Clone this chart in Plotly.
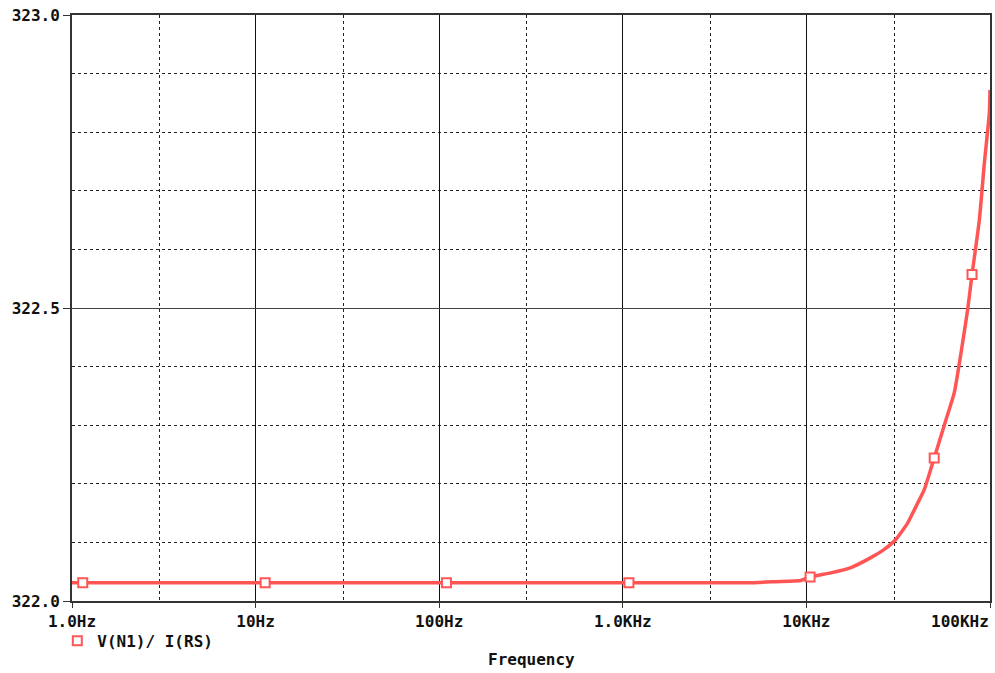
import plotly.graph_objects as go

# Curve (Hz, ohms)
freq = [1, 4775, 6810, 9330, 10470, 13590, 17460, 22440, 26540, 30690, 35570,
        40360, 43850, 49670, 57540, 63830, 75530, 79800, 87480, 93150, 99140, 100000]
zval = [322.031, 322.031, 322.033, 322.035, 322.041, 322.048, 322.057, 322.074,
        322.088, 322.105, 322.133, 322.167, 322.190, 322.244, 322.309, 322.355,
        322.497, 322.557, 322.650, 322.747, 322.832, 322.872]

# Marker positions
mk_freq = [1.144, 11.27, 109.5, 1080, 10470, 49670, 79800]
mk_val = [322.031, 322.031, 322.031, 322.031, 322.041, 322.244, 322.557]

x_ticks = [1, 10, 100, 1000, 10000, 100000]
x_labels = ["1.0Hz", "10Hz", "100Hz", "1.0KHz", "10KHz", "100KHz"]
x_minor = [3, 30, 300, 3000, 30000]
y_ticks = [322.0, 322.5, 323.0]
y_labels = ["322.0", "322.5", "323.0"]
series_name = "V(N1)/ I(RS)"
x_title = "Frequency"

RED = "#ff5555"
FONT = dict(family="DejaVu Sans Mono", size=16, color="#111111", weight="bold")

# the last label sits inside the frame's right edge in the original,
# so it is drawn as a right-aligned annotation
tick_text = x_labels[:-1] + [""]

fig = go.Figure()
fig.add_trace(go.Scatter(x=freq, y=zval, mode="lines",
                         line=dict(color=RED, width=3.5, shape="spline", smoothing=0.5),
                         showlegend=False, hoverinfo="skip"))
fig.add_trace(go.Scatter(x=mk_freq, y=mk_val, mode="markers", name=series_name,
                         marker=dict(symbol="square", size=9, color="white",
                                     line=dict(color=RED, width=2))))

fig.update_layout(
    width=995, height=673,
    margin=dict(l=72, r=5, t=15, b=72, autoexpand=False),
    paper_bgcolor="white", plot_bgcolor="white",
    font=FONT,
    legend=dict(x=-0.016, y=-0.068, xanchor="left", yanchor="middle",
                bgcolor="rgba(0,0,0,0)", font=FONT),
    showlegend=True,
    annotations=[
        dict(text=x_title, x=0.5, y=-0.1, xref="paper", yref="paper",
             xanchor="center", yanchor="middle", showarrow=False, font=FONT),
        dict(text=x_labels[-1], x=1.001, y=-0.035, xref="paper", yref="paper",
             xanchor="right", yanchor="middle", showarrow=False, font=FONT),
    ],
)
fig.update_xaxes(
    type="log", range=[0, 5], automargin=False,
    tickmode="array", tickvals=x_ticks, ticktext=tick_text,
    showgrid=True, gridcolor="#111111", gridwidth=1,
    ticks="outside", ticklen=5, tickcolor="#333333", tickwidth=1,
    showline=True, linecolor="#333333", linewidth=2, mirror=True,
    zeroline=False,
    minor=dict(tickmode="array", tickvals=x_minor, showgrid=True,
               gridcolor="#222222", griddash="3px,3px", gridwidth=1, ticks=""),
)
fig.update_yaxes(
    range=[322.0, 323.0], automargin=False,
    tickmode="array", tickvals=y_ticks, ticktext=y_labels,
    showgrid=True, gridcolor="#444444", gridwidth=1,
    ticks="outside", ticklen=7, tickcolor="#333333", tickwidth=1,
    showline=True, linecolor="#333333", linewidth=2, mirror=True,
    zeroline=False,
    minor=dict(dtick=0.1, tick0=322.0, showgrid=True,
               gridcolor="#222222", griddash="3px,3px", gridwidth=1, ticks=""),
)

fig.write_html("out.html")
